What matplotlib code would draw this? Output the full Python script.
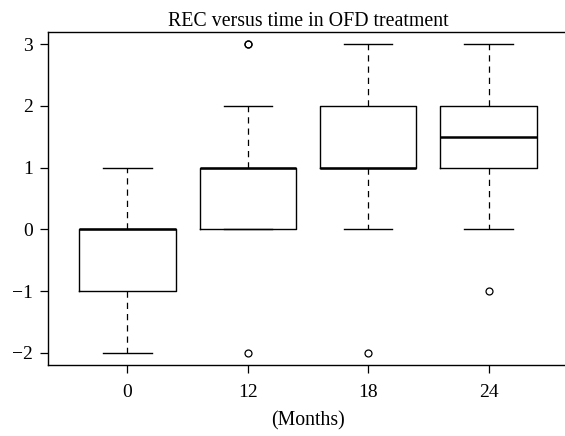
import matplotlib.pyplot as plt

# 数据
months = ['0', '12', '18', '24']
whislo = [-2, 0, 0, 0]
q1 = [-1, 0, 1, 1]
med = [0, 1, 1, 1.5]
q3 = [0, 1, 2, 2]
whishi = [1, 2, 3, 3]
fliers = [[], [3, 3, -2], [-2], [-1]]

plt.rcParams['font.family'] = ['Liberation Serif', 'DejaVu Serif']

stats = []
for i, m in enumerate(months):
    stats.append({'label': m, 'whislo': whislo[i], 'q1': q1[i], 'med': med[i],
                  'q3': q3[i], 'whishi': whishi[i], 'fliers': fliers[i]})

fig = plt.figure(figsize=(5.65, 4.36), dpi=100)
ax = fig.add_axes([48 / 565, 71 / 436, 520 / 565, 333 / 436])

ax.bxp(stats, positions=[1, 2, 3, 4], widths=0.8,
       boxprops=dict(color='black', linewidth=1.0),
       medianprops=dict(color='black', linewidth=1.8),
       whiskerprops=dict(color='black', linewidth=0.9, linestyle=(0, (5, 4))),
       capprops=dict(color='black', linewidth=1.0),
       flierprops=dict(marker='o', markerfacecolor='none', markeredgecolor='black',
                       markersize=5, markeredgewidth=0.9),
       capwidths=0.4)

ax.set_xlim(0.34, 4.66)
ax.set_ylim(-2.2, 3.2)
ax.set_yticks([-2, -1, 0, 1, 2, 3])
ax.set_yticklabels(['\u22122', '\u22121', '0', '1', '2', '3'])
ax.set_xticks([1, 2, 3, 4])
ax.set_xticklabels(months)
ax.tick_params(direction='out', length=6, width=0.9, labelsize=14, pad=5)
ax.tick_params(axis='x', pad=8)
for s in ax.spines.values():
    s.set_linewidth(1.0)

ax.set_title('REC versus time in OFD treatment', fontsize=14.3, pad=4)
ax.set_xlabel('(Months)', fontsize=14.3, labelpad=7)

fig.savefig('out.png', dpi=100)
